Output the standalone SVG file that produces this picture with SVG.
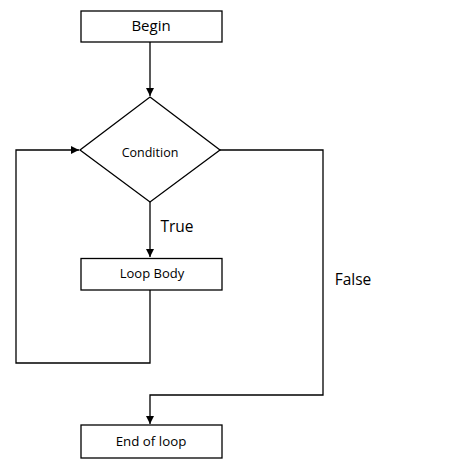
<svg xmlns="http://www.w3.org/2000/svg" width="476" height="462" viewBox="0 0 476 462">
<style>
.box{fill:#fff;stroke:#000;stroke-width:1.3}
.ln{fill:none;stroke:#000;stroke-width:1.3}
.lbl{font-family:"Open Sans","Liberation Sans",sans-serif;fill:#000;text-anchor:middle}
</style>
<defs>
<marker id="ah" viewBox="0 0 10 10" refX="10" refY="5" markerWidth="8" markerHeight="8" markerUnits="userSpaceOnUse" orient="auto">
<path d="M0,0 L10,5 L0,10 Z" fill="#000"/>
</marker>
</defs>
<rect width="476" height="462" fill="#fff"/>
<g id="connectors">
<path class="ln" d="M150,42 V96" marker-end="url(#ah)"/>
<path class="ln" d="M150,202 V257" marker-end="url(#ah)"/>
<path class="ln" d="M150,290 V363 H16 V150 H79" marker-end="url(#ah)"/>
<path class="ln" d="M220,150 H323 V395 H150 V424" marker-end="url(#ah)"/>
<text class="lbl" x="177" y="232" font-size="15.5">True</text>
<text class="lbl" x="353" y="285" font-size="15.5">False</text>
</g>
<g id="begin">
<rect class="box" x="81" y="11" width="141" height="31"/>
<text class="lbl" x="151" y="31" font-size="15">Begin</text>
</g>
<g id="condition">
<polygon class="box" points="150,97 220,150 150,202 80,150"/>
<text class="lbl" x="150" y="157" font-size="12.5">Condition</text>
</g>
<g id="loopbody">
<rect class="box" x="81" y="258.5" width="141" height="31.5"/>
<text class="lbl" x="152" y="278" font-size="13">Loop Body</text>
</g>
<g id="end">
<rect class="box" x="81" y="425" width="141" height="33"/>
<text class="lbl" x="151" y="446" font-size="13.3">End of loop</text>
</g>
</svg>
